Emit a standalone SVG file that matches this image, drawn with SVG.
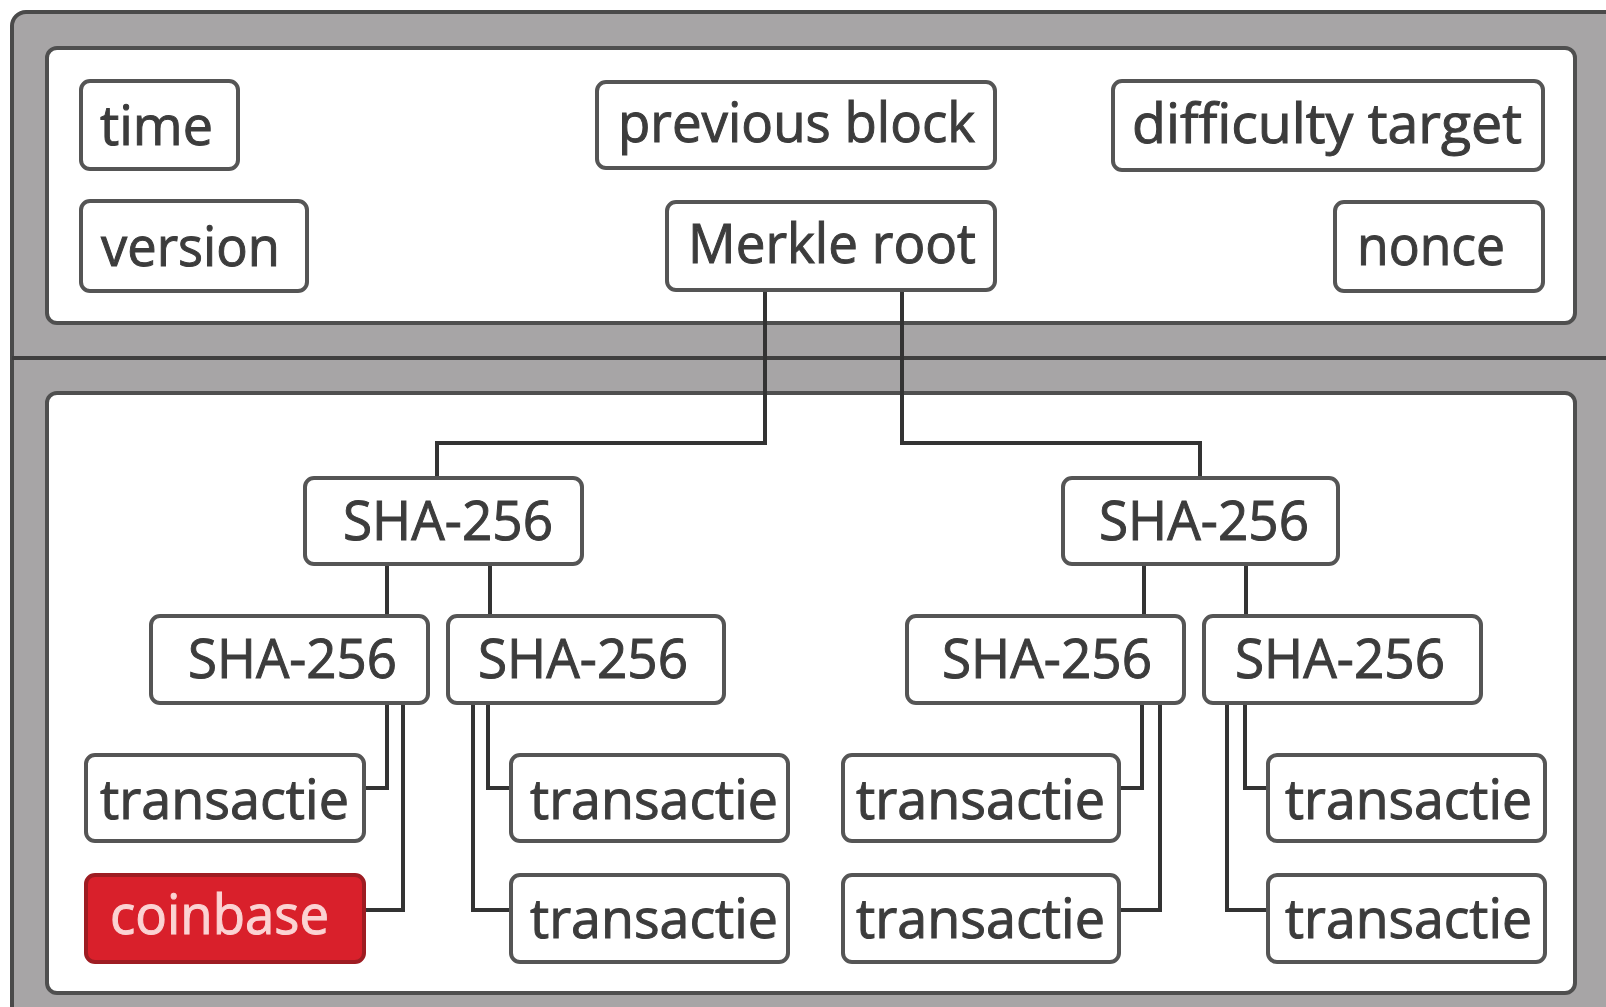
<svg xmlns="http://www.w3.org/2000/svg" width="1606" height="1007" viewBox="0 0 1606 1007">
<style>
.frame{fill:#a7a5a6;stroke:#4a4a4a;stroke-width:4}
.panel{fill:#ffffff;stroke:#4f4f4f;stroke-width:4}
.box{fill:#ffffff;stroke:#555555;stroke-width:4}
.red{fill:#d9202b;stroke:#9e1c22;stroke-width:4}
.t{font-family:"Open Sans","Noto Sans",sans-serif;font-size:54px;fill:#3c3c3c;stroke:#3c3c3c;stroke-width:1}
.tw{font-family:"Open Sans","Noto Sans",sans-serif;font-size:54px;fill:#fbd3d3;stroke:#fbd3d3;stroke-width:1}
.c{fill:none;stroke:#333333;stroke-width:4;stroke-linejoin:miter}
</style>
<rect width="1606" height="1007" fill="#ffffff"/>
<g id="frame">
<rect class="frame" x="12" y="12" width="1620" height="1020" rx="14"/>
<line x1="12" y1="358" x2="1606" y2="358" stroke="#3f3f3f" stroke-width="4"/>
<rect class="panel" x="47" y="48" width="1528" height="275" rx="10"/>
<rect class="panel" x="47" y="393" width="1528" height="600" rx="10"/>
</g>
<g id="connectors">
<polyline class="c" points="765,290 765,443 437,443 437,478"/>
<polyline class="c" points="902,290 902,443 1200,443 1200,478"/>
<line class="c" x1="387" y1="564" x2="387" y2="616"/>
<line class="c" x1="490" y1="564" x2="490" y2="616"/>
<line class="c" x1="1144" y1="564" x2="1144" y2="616"/>
<line class="c" x1="1246" y1="564" x2="1246" y2="616"/>
<polyline class="c" points="387,703 387,788 364,788"/>
<polyline class="c" points="403,703 403,910 364,910"/>
<polyline class="c" points="488,703 488,788 511,788"/>
<polyline class="c" points="473,703 473,910 511,910"/>
<polyline class="c" points="1142,703 1142,788 1119,788"/>
<polyline class="c" points="1160,703 1160,910 1119,910"/>
<polyline class="c" points="1245,703 1245,788 1268,788"/>
<polyline class="c" points="1227,703 1227,910 1268,910"/>
</g>
<g id="time"><rect class="box" x="81" y="81" width="157" height="88" rx="9"/><text class="t" x="100" y="145" textLength="113" lengthAdjust="spacingAndGlyphs">time</text></g>
<g id="version"><rect class="box" x="81" y="201" width="226" height="90" rx="9"/><text class="t" x="101" y="266" textLength="179" lengthAdjust="spacingAndGlyphs">version</text></g>
<g id="previous-block"><rect class="box" x="597" y="82" width="398" height="86" rx="9"/><text class="t" x="618" y="142" textLength="357" lengthAdjust="spacingAndGlyphs">previous block</text></g>
<g id="merkle-root"><rect class="box" x="667" y="202" width="328" height="88" rx="9"/><text class="t" x="688" y="263" textLength="288" lengthAdjust="spacingAndGlyphs">Merkle root</text></g>
<g id="difficulty-target"><rect class="box" x="1113" y="81" width="430" height="89" rx="9"/><text class="t" x="1132" y="143" textLength="390" lengthAdjust="spacingAndGlyphs">difficulty target</text></g>
<g id="nonce"><rect class="box" x="1335" y="202" width="208" height="89" rx="9"/><text class="t" x="1357" y="265" textLength="148" lengthAdjust="spacingAndGlyphs">nonce</text></g>
<g id="sha-l"><rect class="box" x="305" y="478" width="277" height="86" rx="9"/><text class="t" x="343" y="540" textLength="210" lengthAdjust="spacingAndGlyphs">SHA-256</text></g>
<g id="sha-r"><rect class="box" x="1063" y="478" width="275" height="86" rx="9"/><text class="t" x="1099" y="540" textLength="210" lengthAdjust="spacingAndGlyphs">SHA-256</text></g>
<g id="sha-ll"><rect class="box" x="151" y="616" width="277" height="87" rx="9"/><text class="t" x="188" y="678" textLength="209" lengthAdjust="spacingAndGlyphs">SHA-256</text></g>
<g id="sha-lr"><rect class="box" x="448" y="616" width="276" height="87" rx="9"/><text class="t" x="478" y="678" textLength="210" lengthAdjust="spacingAndGlyphs">SHA-256</text></g>
<g id="sha-rl"><rect class="box" x="907" y="616" width="277" height="87" rx="9"/><text class="t" x="942" y="678" textLength="210" lengthAdjust="spacingAndGlyphs">SHA-256</text></g>
<g id="sha-rr"><rect class="box" x="1204" y="616" width="277" height="87" rx="9"/><text class="t" x="1235" y="678" textLength="210" lengthAdjust="spacingAndGlyphs">SHA-256</text></g>
<g id="tx1"><rect class="box" x="86" y="755" width="278" height="86" rx="9"/><text class="t" x="100" y="819" textLength="249" lengthAdjust="spacingAndGlyphs">transactie</text></g>
<g id="coinbase"><rect class="red" x="86" y="875" width="278" height="87" rx="9"/><text class="tw" x="110" y="934" textLength="219" lengthAdjust="spacingAndGlyphs">coinbase</text></g>
<g id="tx2"><rect class="box" x="511" y="755" width="277" height="86" rx="9"/><text class="t" x="530" y="819" textLength="248" lengthAdjust="spacingAndGlyphs">transactie</text></g>
<g id="tx3"><rect class="box" x="511" y="875" width="277" height="87" rx="9"/><text class="t" x="530" y="938" textLength="248" lengthAdjust="spacingAndGlyphs">transactie</text></g>
<g id="tx4"><rect class="box" x="843" y="755" width="276" height="86" rx="9"/><text class="t" x="856" y="819" textLength="249" lengthAdjust="spacingAndGlyphs">transactie</text></g>
<g id="tx5"><rect class="box" x="843" y="875" width="276" height="87" rx="9"/><text class="t" x="856" y="938" textLength="249" lengthAdjust="spacingAndGlyphs">transactie</text></g>
<g id="tx6"><rect class="box" x="1268" y="755" width="277" height="86" rx="9"/><text class="t" x="1285" y="819" textLength="247" lengthAdjust="spacingAndGlyphs">transactie</text></g>
<g id="tx7"><rect class="box" x="1268" y="875" width="277" height="87" rx="9"/><text class="t" x="1285" y="938" textLength="247" lengthAdjust="spacingAndGlyphs">transactie</text></g>
</svg>
